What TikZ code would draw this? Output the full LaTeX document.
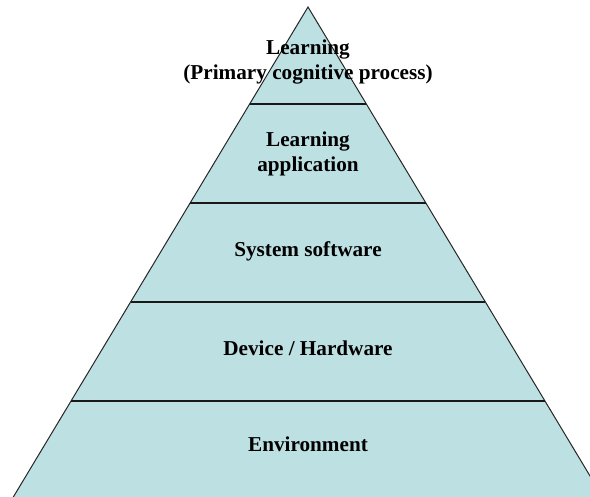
\documentclass[tikz,border=0pt]{standalone}
\usepackage{fontspec}
\setmainfont{Liberation Serif}
\definecolor{pyrfill}{RGB}{189,224,227}

\begin{document}
\begin{tikzpicture}[
    x=0.5pt, y=-0.5pt,
    level/.style = {font=\fontsize{10.6}{12.7}\selectfont\bfseries, align=center, inner sep=0pt},
    rim/.style = {draw=black!85, line width=0.5pt},
    divider/.style = {draw=black!90, line width=1pt}
  ]
  \useasboundingbox (0,0) rectangle (590,497);
  \clip (0,0) rectangle (590,497);
  % Pyramid body.
  \coordinate (apex) at (308,7);
  \coordinate (baseL) at (8.5,505);
  \coordinate (baseR) at (607.5,505);
  \filldraw[rim, fill=pyrfill] (apex) -- (baseL) -- (baseR) -- cycle;
  % Level dividers.
  \foreach \y/\w in {104/58.3, 203/117.9, 302/177.4, 401/237}
    \draw[divider] ({308-\w},\y) -- ({308+\w},\y);
  % Level labels.
  \node[level] (learning) at (308,62) {Learning\\(Primary cognitive process)};
  \node[level] (app) at (308,154) {Learning\\application};
  \node[level] (sys) at (308,251) {System software};
  \node[level] (dev) at (308,348) {Device / Hardware};
  \node[level] (env) at (308,444) {Environment};
\end{tikzpicture}
\end{document}
